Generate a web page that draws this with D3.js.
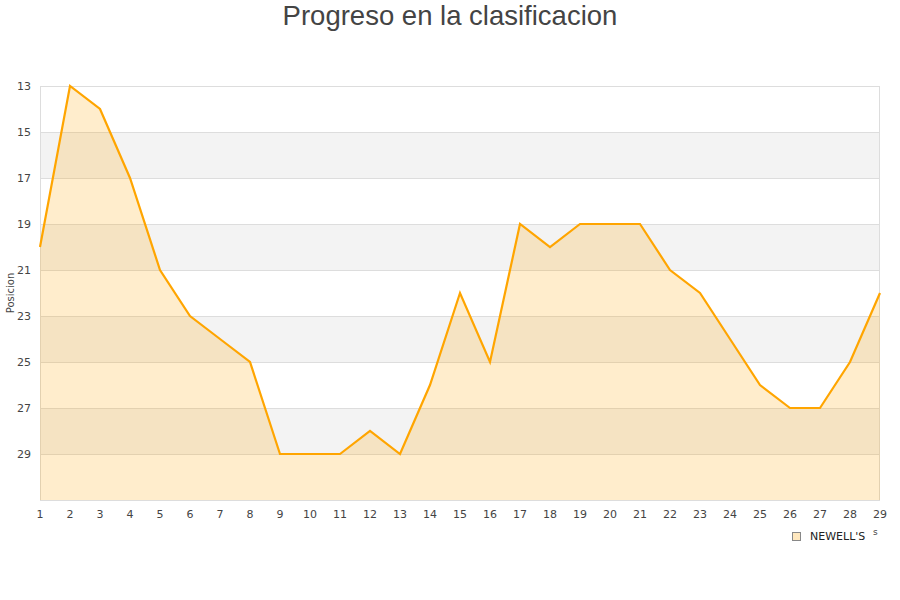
<!DOCTYPE html>
<html><head><meta charset="utf-8">
<script src="https://cdn.jsdelivr.net/npm/d3@7/dist/d3.min.js"></script>
<style>body{margin:0;background:#fff}svg{display:block}</style>
</head><body><svg id="c" width="900" height="600"></svg>
<script>
const jornadas = d3.range(1, 30);
const posiciones = [20,13,14,17,21,23,24,25,29,29,29,28,29,26,22,25,19,20,19,19,19,21,22,24,26,27,27,25,22];
const yTicks = [13,15,17,19,21,23,25,27,29];
const seriesName = "NEWELL'S";
const title = "Progreso en la clasificacion";
const yLabel = "Posicion";

const svg = d3.select("#c");
const L = 40, R = 880, T = 86, B = 500;
const x = d3.scaleLinear().domain([1, 29]).range([L, R]);
const y = d3.scaleLinear().domain([13, 31]).range([T, B]);

const bands = d3.range(13, 31, 2);
svg.append("g").selectAll("rect").data(bands).join("rect")
  .attr("x", L).attr("width", R - L)
  .attr("y", d => y(d)).attr("height", d => y(d + 2) - y(d))
  .attr("fill", (d, i) => i % 2 === 1 ? "#f3f3f3" : "#ffffff");

svg.append("g").selectAll("line").data(yTicks).join("line")
  .attr("x1", L).attr("x2", R)
  .attr("y1", d => y(d) + 0.5).attr("y2", d => y(d) + 0.5)
  .attr("stroke", "#dddddd").attr("stroke-width", 1);

svg.append("rect").attr("x", L + 0.5).attr("y", T + 0.5)
  .attr("width", R - L - 1).attr("height", B - T)
  .attr("fill", "none").attr("stroke", "#dddddd");

const data = jornadas.map((j, i) => ({ j, p: posiciones[i] }));
svg.append("path").datum(data)
  .attr("d", d3.area().x(d => x(d.j)).y0(y(31)).y1(d => y(d.p)))
  .attr("fill", "rgba(255,165,0,0.2)");
svg.append("path").datum(data)
  .attr("d", d3.line().x(d => x(d.j)).y(d => y(d.p)))
  .attr("fill", "none").attr("stroke", "#ffa500").attr("stroke-width", 2.2);

const font = "DejaVu Sans, sans-serif";
svg.append("g").selectAll("text").data(yTicks).join("text")
  .attr("x", 31).attr("y", d => y(d)).attr("dy", "0.35em")
  .attr("text-anchor", "end").attr("font-family", font).attr("font-size", 11)
  .attr("fill", "#444").text(d => d);
svg.append("g").selectAll("text").data(jornadas).join("text")
  .attr("x", d => x(d)).attr("y", 518)
  .attr("text-anchor", "middle").attr("font-family", font).attr("font-size", 11)
  .attr("fill", "#444").text(d => d);

svg.append("text").attr("transform", "translate(14,293) rotate(-90)")
  .attr("text-anchor", "middle").attr("font-family", font).attr("font-size", 10)
  .attr("fill", "#444").text(yLabel);

svg.append("text").attr("x", 450).attr("y", 25).attr("text-anchor", "middle")
  .attr("font-family", "Liberation Sans, Arial, sans-serif").attr("font-size", 27.5)
  .attr("fill", "#444").text(title);

svg.append("rect").attr("x", 792.5).attr("y", 532.5).attr("width", 8).attr("height", 8)
  .attr("fill", "rgba(255,165,0,0.25)").attr("stroke", "#888");
svg.append("text").attr("x", 810).attr("y", 540).attr("font-family", font)
  .attr("font-size", 11).attr("fill", "#222").text(seriesName);
svg.append("text").attr("x", 873).attr("y", 535).attr("font-family", font)
  .attr("font-size", 9).attr("fill", "#444").text("s");
</script></body></html>
